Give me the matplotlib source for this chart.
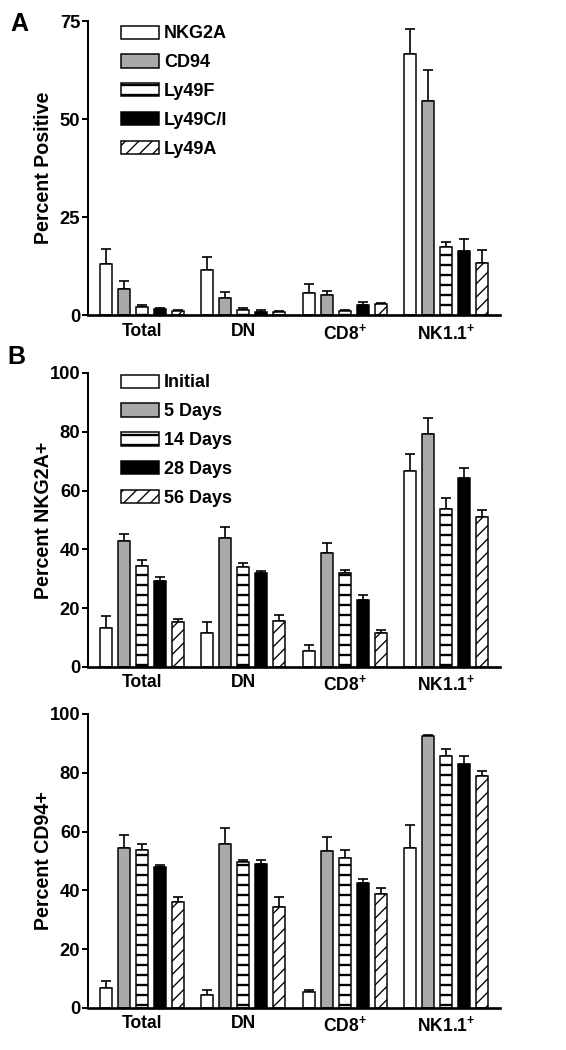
import numpy as np
import matplotlib
matplotlib.use('Agg')
import matplotlib.pyplot as plt

#%% data
groups = ['Total', 'DN', r'CD8$^{+}$', r'NK1.1$^{+}$']

receptors = ['NKG2A', 'CD94', 'Ly49F', 'Ly49C/I', 'Ly49A']
days = ['Initial', '5 Days', '14 Days', '28 Days', '56 Days']

# panel A: percent positive, rows = receptor, cols = group
pos_mean = [[13.1, 11.5, 5.5, 66.7],
            [6.6, 4.3, 5.1, 54.6],
            [2.0, 1.4, 1.1, 17.4],
            [1.6, 0.8, 2.6, 16.3],
            [1.1, 0.8, 2.8, 13.3]]
pos_sem = [[3.7, 3.4, 2.3, 6.2],
           [2.2, 1.6, 1.1, 7.8],
           [0.5, 0.3, 0.2, 1.1],
           [0.2, 0.5, 0.7, 3.0],
           [0.2, 0.2, 0.2, 3.3]]

# panel B: percent NKG2A+, rows = time point
nkg_mean = [[13.3, 11.7, 5.4, 66.7],
            [43.0, 43.9, 38.9, 79.1],
            [34.4, 33.9, 32.1, 53.6],
            [29.3, 31.9, 22.7, 64.2],
            [15.3, 15.6, 11.6, 51.0]]
nkg_sem = [[3.9, 3.5, 2.1, 5.9],
           [2.3, 3.6, 3.2, 5.5],
           [2.0, 1.4, 0.9, 3.7],
           [1.4, 0.8, 1.8, 3.4],
           [1.0, 2.0, 0.9, 2.5]]

# panel C: percent CD94+
cd94_mean = [[6.8, 4.3, 5.3, 54.3],
             [54.4, 55.9, 53.4, 92.6],
             [53.9, 49.5, 50.9, 85.8],
             [47.8, 49.0, 42.4, 83.0],
             [35.9, 34.4, 38.9, 78.9]]
cd94_sem = [[2.5, 1.9, 0.9, 8.1],
            [4.4, 5.4, 4.9, 0.2],
            [2.0, 1.0, 2.8, 2.2],
            [1.0, 1.3, 1.5, 2.7],
            [1.9, 3.5, 1.9, 1.7]]

#%% style
plt.rcParams['font.family'] = ['Liberation Sans', 'DejaVu Sans']
plt.rcParams['font.weight'] = 'bold'
plt.rcParams['mathtext.fontset'] = 'custom'
plt.rcParams['mathtext.rm'] = 'Liberation Sans:bold'
plt.rcParams['mathtext.it'] = 'Liberation Sans:bold'
plt.rcParams['mathtext.bf'] = 'Liberation Sans:bold'

fills = ['white', '#a9a9a9', 'white', 'black', 'white']
hatches = [None, None, '--', None, '///']
hatch_lw = [1.0, 1.0, 1.4, 1.0, 0.8]

pitch = 0.178
width = 0.118


def draw_panel(ax, means, sems, names, ymax, yticks, ylabel, legend):
    x = np.arange(len(groups))
    for i in range(len(names)):
        xs = x + (i - 2) * pitch
        ax.errorbar(xs, means[i], yerr=[np.zeros(len(groups)), sems[i]],
                    fmt='none', ecolor='black', elinewidth=1.0,
                    capsize=2.8, capthick=1.0, zorder=1)
        with plt.rc_context({'hatch.linewidth': hatch_lw[i]}):
            bars = ax.bar(xs, means[i], width=width, color=fills[i],
                          edgecolor='black', linewidth=0.9, hatch=hatches[i],
                          label=names[i], zorder=2)
        for b in bars:
            try:
                b.set_hatch_linewidth(hatch_lw[i])
            except AttributeError:
                pass
    ax.set_xlim(-0.53, 3.53)
    ax.set_ylim(0, ymax)
    ax.set_yticks(yticks)
    ax.set_xticks(x)
    ax.set_xticklabels(groups, fontsize=10.5, fontweight='bold')
    ax.tick_params(axis='x', length=0, pad=4.5)
    ax.tick_params(axis='y', length=3.6, width=1.2, pad=1, labelsize=11)
    ax.spines['top'].set_visible(False)
    ax.spines['right'].set_visible(False)
    ax.spines['left'].set_linewidth(1.2)
    ax.spines['bottom'].set_linewidth(1.6)
    ax.set_ylabel(ylabel, fontsize=11.8, fontweight='bold')
    ax.yaxis.set_label_coords(-0.085, 0.5)
    if legend is not None:
        leg = ax.legend(loc='upper left', bbox_to_anchor=legend, frameon=False,
                        fontsize=10.8, handlelength=2.1, handleheight=0.75,
                        handletextpad=0.3, labelspacing=0.66, borderpad=0,
                        borderaxespad=0)
        for h, lw in zip(leg.legend_handles, hatch_lw):
            try:
                h.set_hatch_linewidth(lw)
            except AttributeError:
                pass


fig = plt.figure(figsize=(566 / 120, 1050 / 120), dpi=120)

axA = fig.add_axes([0.1555, 0.70, 0.728, 0.28])
draw_panel(axA, pos_mean, pos_sem, receptors, 75, [0, 25, 50, 75],
           'Percent Positive', (0.08, 0.985))

axB = fig.add_axes([0.1555, 0.3648, 0.728, 0.28])
draw_panel(axB, nkg_mean, nkg_sem, days, 100, [0, 20, 40, 60, 80, 100],
           'Percent NKG2A+', (0.08, 0.995))

axC = fig.add_axes([0.1555, 0.04, 0.728, 0.28])
draw_panel(axC, cd94_mean, cd94_sem, days, 100, [0, 20, 40, 60, 80, 100],
           'Percent CD94+', None)

fig.text(10 / 566, 1 - 24 / 1050, 'A', fontsize=15, fontweight='bold',
         ha='left', va='center')
fig.text(7 / 566, 1 - 357 / 1050, 'B', fontsize=15, fontweight='bold',
         ha='left', va='center')

fig.savefig('out.png', dpi=120)
